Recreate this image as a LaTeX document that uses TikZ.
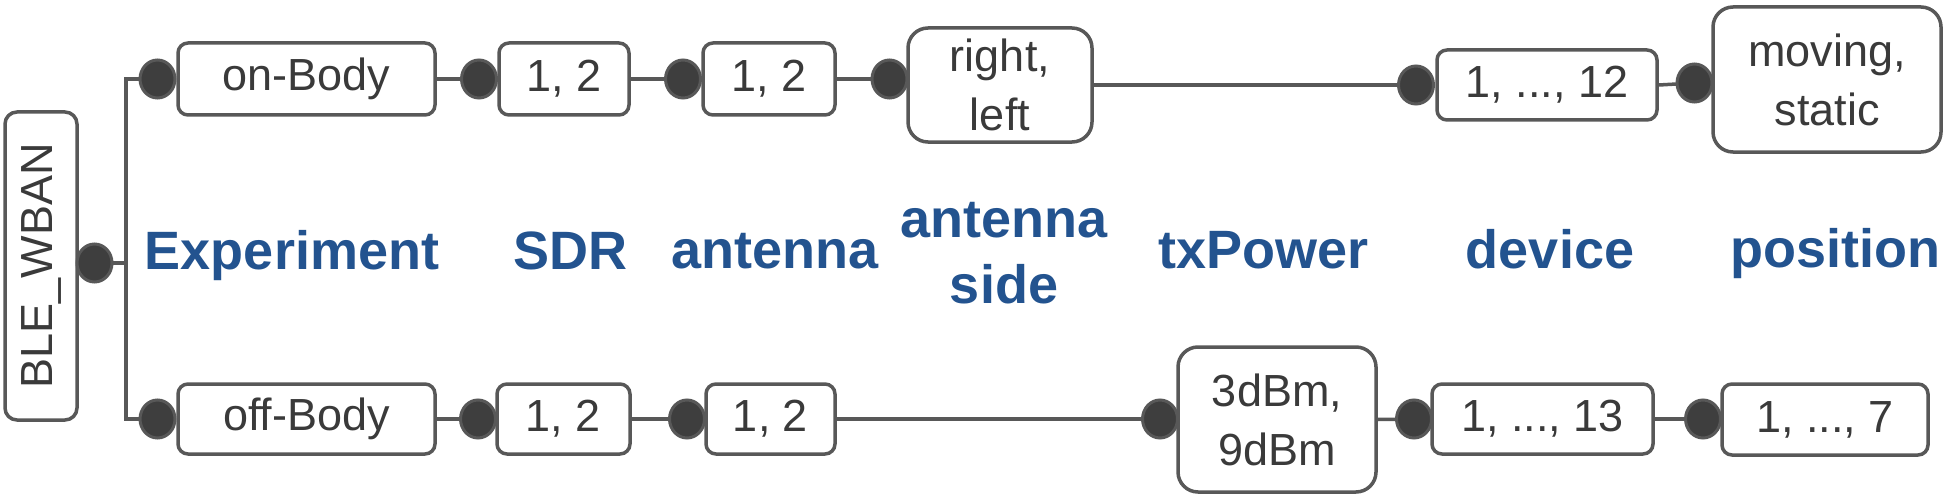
\documentclass[tikz,border=0pt]{standalone}
\usepackage{fontspec}
\setmainfont{Liberation Sans}
\usetikzlibrary{shapes.geometric,backgrounds}
\definecolor{lgray}{RGB}{88,88,88}
\definecolor{dfill}{RGB}{62,62,62}
\definecolor{tgray}{RGB}{58,58,58}
\definecolor{lblue}{RGB}{35,83,143}
\begin{document}
\begin{tikzpicture}[x=1pt,y=-1pt,
  box/.style={draw=lgray, line width=3.5pt, rounded corners=10pt, fill=white, text=tgray,
    font=\fontsize{45}{59}\selectfont, align=center, inner sep=0pt},
  bigbox/.style={box, rounded corners=20pt},
  dot/.style={ellipse, draw=lgray, line width=3pt, fill=dfill, minimum width=35pt,
    minimum height=38pt, inner sep=0pt},
  lbl/.style={text=lblue, font=\fontsize{54}{66}\selectfont\bfseries, align=center, anchor=base},
  conn/.style={draw=lgray, line width=3.5pt}]
\useasboundingbox (0,0) rectangle (1953,500);

% root
\node[box, rounded corners=12pt, rotate=90, minimum width=308pt, minimum height=72pt] (ble) at (41,266) {BLE\_WBAN};
\node[dot] (root) at (94.5,263) {};
\coordinate (bx) at (126,263);

% top row
\node[dot] (don) at (157.5,79) {};
\node[box, minimum width=257pt, minimum height=72pt] (onbody) at (306.5,79) {on-Body};
\node[dot] (dsdr1) at (479,79) {};
\node[box, minimum width=130pt, minimum height=72pt] (sdr1) at (564,79) {1, 2};
\node[dot] (dant1) at (683,79) {};
\node[box, minimum width=132pt, minimum height=72pt] (ant1) at (769,79) {1, 2};
\node[dot] (dside1) at (889.5,79) {};
\node[bigbox, minimum width=184pt, minimum height=114pt] (side1) at (1000,85) {right,\\left};
\node[dot] (ddev1) at (1416,85) {};
\node[box, minimum width=220pt, minimum height=70pt] (dev1) at (1547,85) {1, ..., 12};
\node[dot] (dpos1) at (1694.5,83) {};
\node[bigbox, minimum width=228pt, minimum height=145pt] (pos1) at (1827,79.5) {moving,\\static};

% bottom row
\node[dot] (doff) at (157.5,419) {};
\node[box, minimum width=257pt, minimum height=70pt] (offbody) at (306.5,419) {off-Body};
\node[dot] (dsdr2) at (478,419) {};
\node[box, minimum width=133pt, minimum height=70pt] (sdr2) at (563.5,419) {1, 2};
\node[dot] (dant2) at (687,419) {};
\node[box, minimum width=129pt, minimum height=70pt] (ant2) at (770.5,419) {1, 2};
\node[dot] (dtx) at (1160,419) {};
\node[bigbox, minimum width=198pt, minimum height=145pt] (tx) at (1277,419.5) {3dBm,\\9dBm};
\node[dot] (ddev2) at (1414,419) {};
\node[box, minimum width=221pt, minimum height=70pt] (dev2) at (1542.5,419) {1, ..., 13};
\node[dot] (dpos2) at (1703,419) {};
\node[box, minimum width=206pt, minimum height=71pt] (pos2) at (1825,419.5) {1, ..., 7};

% labels
\node[lbl] (lexp) at (292,269) {Experiment};
\node[lbl] (lsdr) at (570,269) {SDR};
\node[lbl] (lant) at (775,268) {antenna};
\node[lbl] (lside) at (1004,303) {antenna\\side};
\node[lbl] (ltx) at (1263.5,268) {txPower};
\node[lbl] (ldev) at (1550,268) {device};
\node[lbl] (lpos) at (1835.5,267) {position};

% connectors
\begin{scope}[on background layer]
\draw[conn] (root.center) -- (bx);
\draw[conn] (don.center) -| (bx) |- (doff.center);
\draw[conn] (onbody.east) -- (dsdr1.center);
\draw[conn] (sdr1.east) -- (dant1.center);
\draw[conn] (ant1.east) -- (dside1.center);
\draw[conn] (side1.east) -- (ddev1.center);
\draw[conn] (dev1.east) -- (dpos1.center);
\draw[conn] (offbody.east) -- (dsdr2.center);
\draw[conn] (sdr2.east) -- (dant2.center);
\draw[conn] (ant2.east) -- (dtx.center);
\draw[conn] (tx.east) -- (ddev2.center);
\draw[conn] (dev2.east) -- (dpos2.center);
\end{scope}
\end{tikzpicture}
\end{document}
